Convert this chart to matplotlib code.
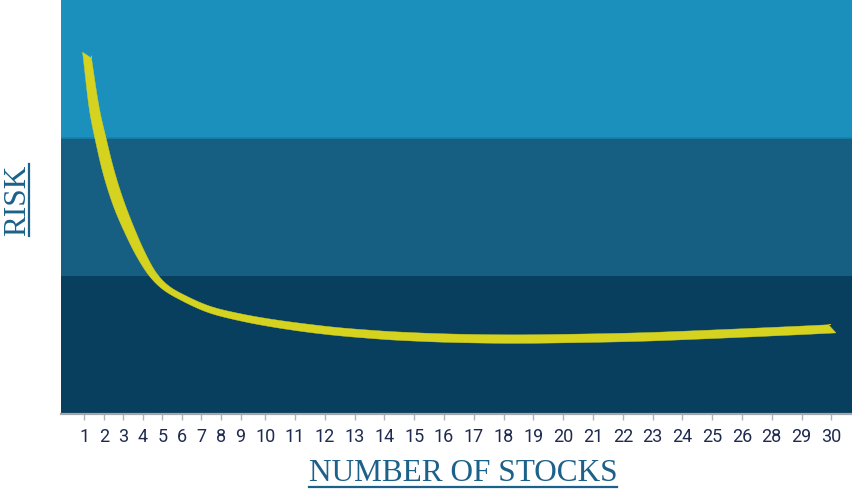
import numpy as np
import matplotlib
matplotlib.use("Agg")
import matplotlib.pyplot as plt
from matplotlib.patches import Polygon
from matplotlib.lines import Line2D

# ---------------- data ----------------
tick_labels = [str(i) for i in range(1, 27)] + ["28", "29", "30"]

# risk curve: position along the axis (% of width) and risk (% of height)
curve_pos = [3.28, 4.17, 4.99, 6.06, 7.45, 9.22, 10.29, 11.49, 12.88, 14.39,
             18.43, 22.60, 26.77, 31.06, 35.23, 40.28, 42.80, 48.74, 57.07,
             65.53, 71.84, 76.52, 84.85, 93.31, 97.47]
curve_risk = [86.68, 74.09, 66.59, 58.11, 49.88, 41.89, 37.77, 33.90, 30.99,
              29.06, 25.42, 23.37, 21.91, 20.75, 19.85, 19.08, 18.79, 18.33,
              18.09, 18.28, 18.52, 18.81, 19.47, 20.19, 20.58]

band_edges = [0, 100 / 3, 200 / 3, 100]

# ---------------- style ----------------
W, H = 853, 495
band_colors = ["#083e5e", "#165f82", "#1b90bd"]
curve_color = "#d5d220"
stroke_px = [8, 10, 11, 11.5, 11.5, 10, 9, 7.5, 6.5, 6, 6.5, 7, 7.5, 8, 8,
             8.2, 8.3, 8.4, 8.5, 8.5, 8.5, 8.5, 8.5, 8.5, 8.5]
label_color = "#1b6189"
tick_color = "#1e2a4f"

fig = plt.figure(figsize=(W / 100, H / 100), dpi=100)
ax = fig.add_axes([61 / W, (H - 414) / H, 792 / W, 414 / H])
ax.set_xlim(0, 100)
ax.set_ylim(0, 100)

for i in range(3):
    ax.axhspan(band_edges[i], band_edges[i + 1], color=band_colors[i], lw=0, zorder=0)
ax.axhline(band_edges[2], color="#1782ad", lw=1.2, zorder=1)

# tick positions from label widths (category layout)
w1, w2, start_px = 19.5, 29.8, 74.75
widths = np.array([w1 if len(t) == 1 else w2 for t in tick_labels])
centers_px = start_px + np.cumsum(widths) - widths / 2
tick_pos = (centers_px - 61) / 792 * 100
ax.set_xticks(tick_pos)
ax.set_xticklabels(tick_labels, fontfamily="Roboto", fontsize=13, color=tick_color)
ax.tick_params(axis="x", length=4, width=1, color="#b0b4b8", pad=6)
ax.set_yticks([])
for s in ["top", "left", "right"]:
    ax.spines[s].set_visible(False)
ax.spines["bottom"].set_color("#a3a7ab")
ax.spines["bottom"].set_linewidth(1.6)

# ---------------- ribbon curve ----------------
pts = ax.transData.transform(np.column_stack([curve_pos, curve_risk]))
P = np.vstack([2 * pts[0] - pts[1], pts, 2 * pts[-1] - pts[-2]])
wid = np.array(stroke_px, dtype=float)
n_sub = 24
cs, ws = [], []
for i in range(1, len(P) - 2):
    p0, p1, p2, p3 = P[i - 1], P[i], P[i + 1], P[i + 2]
    t = np.linspace(0, 1, n_sub, endpoint=False)[:, None]
    c = 0.5 * ((2 * p1) + (-p0 + p2) * t + (2 * p0 - 5 * p1 + 4 * p2 - p3) * t ** 2
               + (-p0 + 3 * p1 - 3 * p2 + p3) * t ** 3)
    cs.append(c)
    ws.append(wid[i - 1] + (wid[i] - wid[i - 1]) * t[:, 0])
cs.append(pts[-1:])
ws.append(wid[-1:])
C0 = np.vstack(cs)
W0 = np.concatenate(ws)

# resample by arc length (1 px) and smooth to remove kinks
seg = np.linalg.norm(np.diff(C0, axis=0), axis=1)
s = np.concatenate([[0], np.cumsum(seg)])
sn = np.arange(0, s[-1], 1.0)
C = np.column_stack([np.interp(sn, s, C0[:, 0]), np.interp(sn, s, C0[:, 1])])
Wd = np.interp(sn, s, W0)
sig = 6.0
k = np.arange(-int(4 * sig), int(4 * sig) + 1)
g = np.exp(-0.5 * (k / sig) ** 2)
g /= g.sum()
pad = len(k) // 2


def smooth(a):
    ap = np.concatenate([2 * a[0] - a[pad:0:-1], a, 2 * a[-1] - a[-2:-pad - 2:-1]])
    return np.convolve(ap, g, mode="valid")


C = np.column_stack([smooth(C[:, 0]), smooth(C[:, 1])])
Wd = smooth(Wd)

T = np.gradient(C, axis=0)
T /= np.linalg.norm(T, axis=1)[:, None]
N = np.column_stack([-T[:, 1], T[:, 0]])
left = C + N * Wd[:, None] / 2
right = C - N * Wd[:, None] / 2
skew = 3.5
left[0] += T[0] * skew
right[0] -= T[0] * skew
left[-1] -= T[-1] * skew
right[-1] += T[-1] * skew
poly_disp = np.vstack([left, right[::-1]])
poly = ax.transData.inverted().transform(poly_disp)
ax.add_patch(Polygon(poly, closed=True, facecolor=curve_color, edgecolor=curve_color,
                     lw=0.3, zorder=3))

# ---------------- axis titles with underline ----------------
t1 = fig.text(463 / W, (H - 481) / H, "NUMBER OF STOCKS", fontfamily="Liberation Serif",
              fontsize=22.5, color=label_color, ha="center", va="baseline")
t2 = fig.text(25 / W, (H - 200) / H, "RISK", fontfamily="Liberation Serif",
              fontsize=22.5, color=label_color, ha="center", va="baseline",
              rotation=90, rotation_mode="anchor")
fig.canvas.draw()
r = fig.canvas.get_renderer()
b1 = t1.get_window_extent(r)
fig.add_artist(Line2D([b1.x0 / W, b1.x1 / W], [(H - 487) / H] * 2, color=label_color, lw=1.6))
b2 = t2.get_window_extent(r)
fig.add_artist(Line2D([29 / W] * 2, [b2.y0 / H, b2.y1 / H], color=label_color, lw=1.6))

fig.savefig("out.png", dpi=100)
